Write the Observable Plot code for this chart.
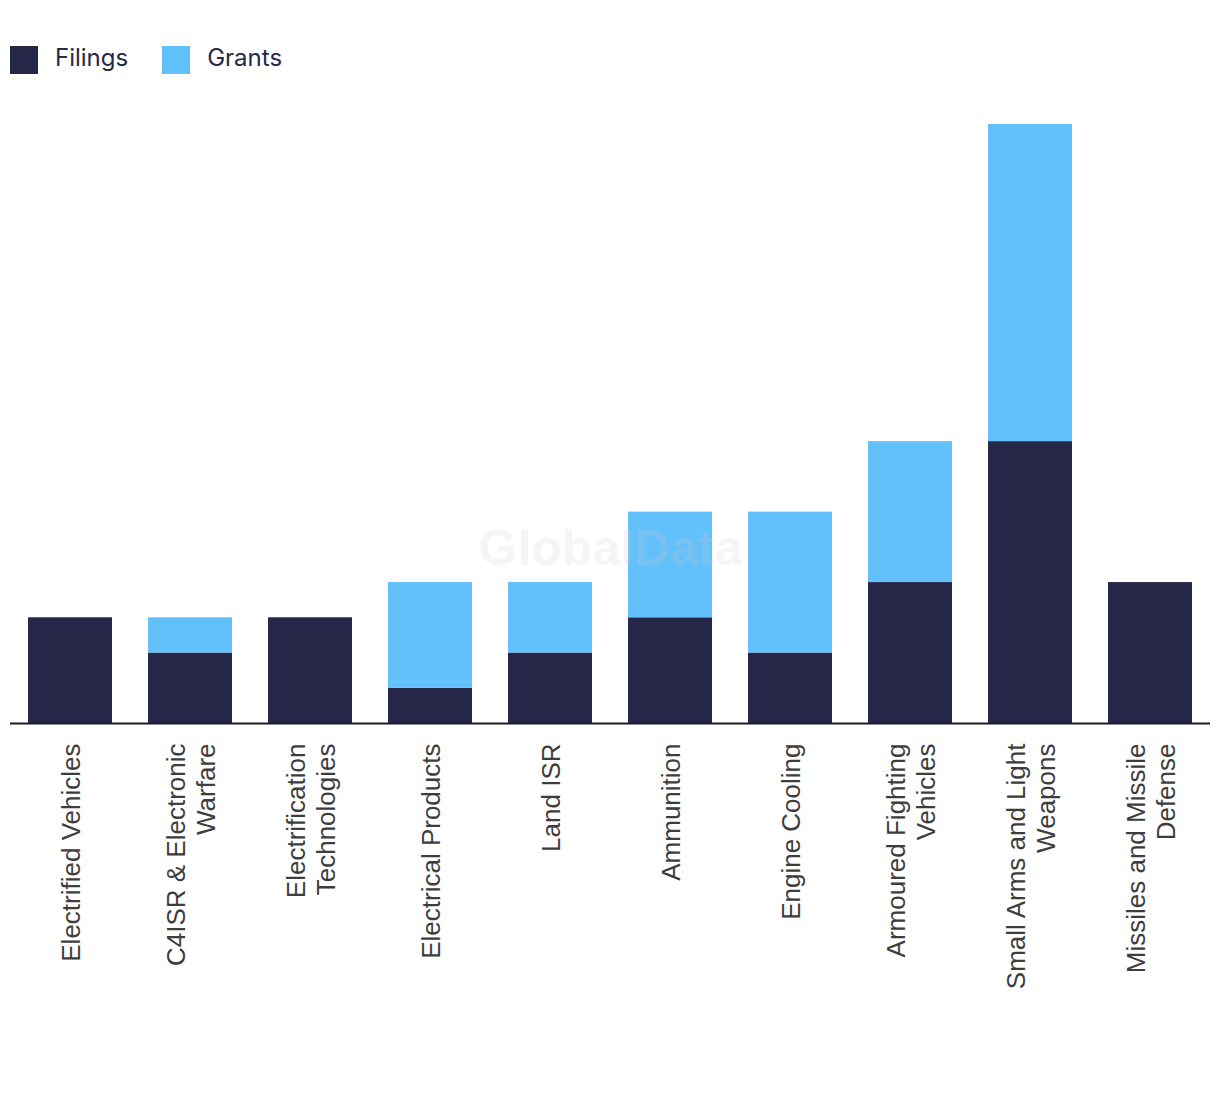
<!DOCTYPE html>
<html>
<head>
<meta charset="utf-8">
<script src="https://cdn.jsdelivr.net/npm/d3@7"></script>
<script src="https://cdn.jsdelivr.net/npm/@observablehq/plot@0.6"></script>
<style>
  html, body { margin: 0; padding: 0; background: #fff; }
  #wrap { position: relative; width: 1220px; height: 1094px; }
  #legend { position: absolute; top: 46px; left: 10px; height: 28px; display: flex; align-items: center; font-family: Inter, "Noto Sans", sans-serif; font-size: 24px; line-height: 28px; color: #262749; }
  .item { display: flex; align-items: center; margin-right: 34px; }
  .item span { position: relative; top: -2px; }
  .sw { width: 28px; height: 28px; margin-right: 17px; }
  #chart { position: absolute; top: 100px; left: 0; }
</style>
</head>
<body>
<div id="wrap">
  <div id="legend"></div>
  <div id="chart"></div>
</div>
<script>
const categories = ["Electrified Vehicles", "C4ISR & Electronic Warfare", "Electrification Technologies", "Electrical Products", "Land ISR", "Ammunition", "Engine Cooling", "Armoured Fighting Vehicles", "Small Arms and Light Weapons", "Missiles and Missile Defense"];
const tickLabels = ["Electrified Vehicles", "C4ISR & Electronic\nWarfare", "Electrification\nTechnologies", "Electrical Products", "Land ISR", "Ammunition", "Engine Cooling", "Armoured Fighting\nVehicles", "Small Arms and Light\nWeapons", "Missiles and Missile\nDefense"];
const filings = [3, 2, 3, 1, 2, 3, 2, 4, 8, 4];
const grants  = [0, 1, 0, 3, 2, 3, 4, 4, 9, 0];
const seriesNames = ["Filings", "Grants"];
const seriesColors = ["#262749", "#62c0fa"];

const data = [];
categories.forEach((c, i) => {
  data.push({category: c, series: "Filings", value: filings[i]});
  data.push({category: c, series: "Grants", value: grants[i]});
});
const labels = categories.map((c, i) => ({category: c, label: tickLabels[i]}));

// legend
const legend = document.getElementById("legend");
seriesNames.forEach((s, i) => {
  const it = document.createElement("div");
  it.className = "item";
  const sw = document.createElement("div");
  sw.className = "sw";
  sw.style.background = seriesColors[i];
  const t = document.createElement("span");
  t.textContent = s;
  it.appendChild(sw); it.appendChild(t);
  legend.appendChild(it);
});

const chart = Plot.plot({
  width: 1220,
  height: 994,
  marginLeft: 10,
  marginRight: 10,
  marginTop: 24,
  marginBottom: 371,
  x: {domain: categories, paddingInner: 0.3, paddingOuter: 0.15, axis: null},
  y: {domain: [0, 17], axis: null},
  color: {domain: seriesNames, range: seriesColors},
  marks: [
    Plot.barY(data, {x: "category", y: "value", fill: "series"}),
    Plot.text(["GlobalData"], {frameAnchor: "middle", dy: 125, fontSize: 50, fontWeight: "bold", fontFamily: "Liberation Sans, Arial, sans-serif", fill: "#cccccc", fillOpacity: 0.2}),
    Plot.ruleY([0], {stroke: "#1b1b2f", strokeWidth: 2}),
    Plot.text(labels, {x: "category", y: 0, text: "label", rotate: -90, dy: 20, textAnchor: "end", lineAnchor: "middle", lineHeight: 1.15, fontSize: 26, fontFamily: "Liberation Sans, Arial, sans-serif", fill: "#3d3d3d"})
  ]
});
document.getElementById("chart").appendChild(chart);
</script>
</body>
</html>
